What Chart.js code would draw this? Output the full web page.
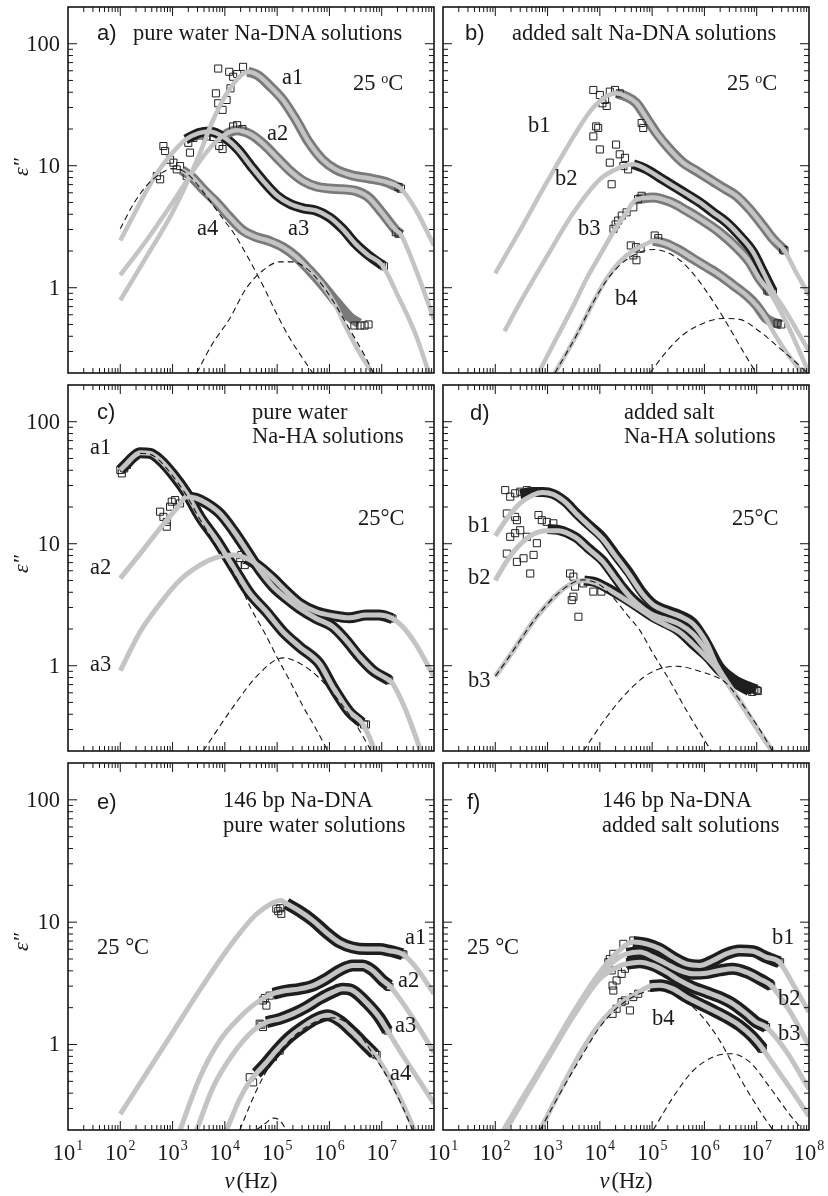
<!DOCTYPE html>
<html>
<head>
<meta charset="utf-8">
<title>Dielectric loss spectra</title>
<script src="https://cdn.jsdelivr.net/npm/chart.js@4.4.1/dist/chart.umd.min.js"></script>
<style>
  body { margin: 0; background: #fff; }
  #fig { position: relative; width: 828px; height: 1196px; overflow: hidden; }
  #fig canvas { position: absolute; }
  .t { position: absolute; font: 22.5px/22px "Liberation Serif", "Times New Roman", serif; color: #1a1a1a; white-space: nowrap; }
  .s { font-family: "Liberation Sans", Arial, sans-serif; font-size: 22px; }
  .t sup { font-size: 14px; vertical-align: 7px; line-height: 0; }
</style>
</head>
<body>
<div id="fig">
  <canvas id="cA" width="440" height="379" style="left:0;top:0"></canvas>
  <canvas id="cB" width="408" height="379" style="left:420px;top:0"></canvas>
  <canvas id="cC" width="440" height="378" style="left:0;top:379px"></canvas>
  <canvas id="cD" width="408" height="378" style="left:420px;top:379px"></canvas>
  <canvas id="cE" width="440" height="439" style="left:0;top:757px"></canvas>
  <canvas id="cF" width="408" height="439" style="left:420px;top:757px"></canvas>

  <!-- panel a -->
  <div class="t s" style="left:97px;top:22px">a)</div>
  <div class="t" style="left:133px;top:22px">pure water Na-DNA solutions</div>
  <div class="t" style="left:353px;top:72px">25 <sup>o</sup>C</div>
  <div class="t" style="left:282px;top:66px">a1</div>
  <div class="t" style="left:267px;top:122px">a2</div>
  <div class="t" style="left:288px;top:217px">a3</div>
  <div class="t" style="left:197px;top:217px">a4</div>
  <!-- panel b -->
  <div class="t s" style="left:465px;top:22px">b)</div>
  <div class="t" style="left:512px;top:22px">added salt Na-DNA solutions</div>
  <div class="t" style="left:727px;top:72px">25 <sup>o</sup>C</div>
  <div class="t" style="left:528px;top:114px">b1</div>
  <div class="t" style="left:555px;top:167px">b2</div>
  <div class="t" style="left:578px;top:217px">b3</div>
  <div class="t" style="left:615px;top:287px">b4</div>
  <!-- panel c -->
  <div class="t s" style="left:97px;top:401px">c)</div>
  <div class="t" style="left:252px;top:401px">pure water</div>
  <div class="t" style="left:252px;top:425px">Na-HA solutions</div>
  <div class="t" style="left:358px;top:507px">25°C</div>
  <div class="t" style="left:90px;top:436px">a1</div>
  <div class="t" style="left:90px;top:556px">a2</div>
  <div class="t" style="left:90px;top:653px">a3</div>
  <!-- panel d -->
  <div class="t s" style="left:470px;top:402px">d)</div>
  <div class="t" style="left:624px;top:401px">added salt</div>
  <div class="t" style="left:624px;top:425px">Na-HA solutions</div>
  <div class="t" style="left:732px;top:507px">25°C</div>
  <div class="t" style="left:468px;top:514px">b1</div>
  <div class="t" style="left:468px;top:566px">b2</div>
  <div class="t" style="left:468px;top:669px">b3</div>
  <!-- panel e -->
  <div class="t s" style="left:97px;top:791px">e)</div>
  <div class="t" style="left:223px;top:789px">146 bp Na-DNA</div>
  <div class="t" style="left:223px;top:814px">pure water solutions</div>
  <div class="t" style="left:97px;top:936px">25 °C</div>
  <div class="t" style="left:405px;top:926px">a1</div>
  <div class="t" style="left:398px;top:969px">a2</div>
  <div class="t" style="left:395px;top:1014px">a3</div>
  <div class="t" style="left:390px;top:1062px">a4</div>
  <!-- panel f -->
  <div class="t s" style="left:467px;top:791px">f)</div>
  <div class="t" style="left:602px;top:789px">146 bp Na-DNA</div>
  <div class="t" style="left:602px;top:814px">added salt solutions</div>
  <div class="t" style="left:467px;top:936px">25 °C</div>
  <div class="t" style="left:772px;top:926px">b1</div>
  <div class="t" style="left:778px;top:987px">b2</div>
  <div class="t" style="left:778px;top:1022px">b3</div>
  <div class="t" style="left:652px;top:1007px">b4</div>
</div>

<script>
// axis ranges and tick labels
const nuMin = 10, nuMax = 1e8;
const epsMin = 0.2, epsMax = 200;
const yTickLabels = [1, 10, 100];
const xExpLeft = [1, 2, 3, 4, 5, 6, 7];
const xExpRight = [1, 2, 3, 4, 5, 6, 7, 8];

// values are [frequency in Hz, eps'']

// a) pure water Na-DNA
const pA_a1FitLo = [[100,0.79],[316,1.79],[1000,4.15],[3160,12.0],[5620,22.4],[10000,36.8],[17800,51.9]];
const pA_a1Data = [[27500,58.9],[42700,55.2],[75000,44.4],[129000,34.6],[229000,23.8],[410000,15.4],[740000,11.2],[1.32e6,9.33],[2.7e6,8.34],[5.6e6,7.89],[1.2e7,7.36],[2.33e7,6.5]];
const pA_a1FitHi = [[4.4e7,4.42],[1e8,2.22]];
const pA_a1Sq = [[6740,39.2],[7460,62.6],[7460,32.5],[9040,28.7],[10800,34.6],[12100,58.9],[12800,43.1],[14400,53.6],[17200,56.4],[22300,64.6],[2.1e7,6.7],[2.33e7,6.5]];

const pA_a2FitLo = [[100,1.27],[316,2.44],[1000,5.0],[3160,10.6],[5620,14.5]];
const pA_a2Data = [[10000,18.0],[16600,19.5],[31600,18.0],[56200,14.9],[1e5,11.6],[178000,9.06],[316000,7.5],[562000,6.75],[1e6,6.5],[1.78e6,6.42],[3.16e6,6.22],[5.62e6,5.5],[1e7,4.15],[1.78e7,3.03],[2.33e7,2.72]];
const pA_a2FitHi = [[4.4e7,1.44],[1e8,0.55]];
const pA_a2Sq = [[7800,14.5],[9040,13.7],[14400,21],[17200,21.5],[21700,20],[1.86e7,2.85],[2.1e7,2.77]];

const pA_a3FitLo = [[100,2.44],[178,3.9],[316,6.22],[562,9.33],[1000,12.8]];
const pA_a3Data = [[1780,16.4],[3160,18.5],[5130,19.1],[10000,16.9],[17800,13.6],[31600,9.93],[56200,7.36],[1e5,5.67],[178000,4.85],[316000,4.47],[562000,4.28],[1e6,3.78],[1.78e6,3.04],[3.16e6,2.29],[5.62e6,1.84],[1.02e7,1.53]];
const pA_a3FitHi = [[2.15e7,0.82],[4.5e7,0.41],[8e7,0.2]];
const pA_a3Sq = [[2000,15.4],[2500,16.9],[3340,17.7],[4480,17.4],[6000,17.2],[1.0e7,1.55],[1.1e7,1.5]];

const pA_a4Data = [[1500,9.2],[2320,8.1],[3860,6.4],[6930,5.0],[12400,3.78],[22300,2.94],[40100,2.6],[71900,2.41],[129000,2.15],[232000,1.79],[416000,1.39],[746000,1.05],[1.34e6,0.77],[2.4e6,0.58],[3.7e6,0.51]];
const pA_a4FitHi = [[1.3e6,0.72],[2.2e6,0.45],[4e6,0.28],[6.7e6,0.2]];
const pA_a4Sq = [[500,8.24],[578,7.74],[668,14.5],[720,13.2],[896,11.2],[1040,10.6],[1200,9.33],[1390,9.93],[1860,8.24],[2150,12.8],[3.0e6,0.49],[3.9e6,0.49],[4.7e6,0.49],[5.6e6,0.5]];

const pA_dash1 = [[100,3.04],[178,4.85],[316,6.84],[562,8.5],[1000,9.46],[1780,8.8],[3160,6.8],[5620,4.9],[10000,3.5],[14400,2.85],[31600,1.6],[56200,1.0],[1e5,0.6],[178000,0.38],[316000,0.26],[480000,0.2]];
const pA_dash2 = [[2900,0.2],[5620,0.34],[12400,0.56],[25700,0.99],[53700,1.39],[112000,1.63],[200000,1.63],[363000,1.44],[646000,1.12],[1.15e6,0.79],[2.34e6,0.47],[4.9e6,0.27],[6.9e6,0.2]];

// b) added salt Na-DNA
const pB_b1FitLo = [[100,1.31],[316,3.1],[1000,7.5],[3160,17.4],[6460,27.8],[11600,35.7]];
const pB_b1Data = [[20900,39.2],[32400,36.8],[50400,32.5],[78200,24.5],[121000,18.5],[218000,13.6],[391000,10.6],[703000,9.06],[1.26e6,7.74],[2.25e6,6.62],[4.06e6,5.67],[7.25e6,4.42],[1.31e7,3.23],[2.04e7,2.52],[3.39e7,2.02]];
const pB_b1FitHi = [[5.6e7,1.35],[1e8,0.87]];
const pB_b1Sq = [[7500,41.8],[10000,38],[11200,32.5],[12600,34.6],[13500,30.9],[15500,40.5],[19500,41.8],[24000,39.2],[63000,22.4],[67600,20.4],[3.2e7,2.05],[3.39e7,2.02]];

const pB_b2FitLo = [[150,0.44],[316,0.79],[1000,1.84],[3160,4.15],[10000,7.74],[24000,9.64]];
const pB_b2Data = [[43700,10.3],[78200,9.33],[141000,7.98],[251000,6.84],[457000,5.85],[813000,5.0],[1.45e6,4.15],[2.63e6,3.44],[4.68e6,2.68],[8.51e6,1.96],[1.32e7,1.35],[2.04e7,0.93]];
const pB_b2FitHi = [[3.6e7,0.64],[6.6e7,0.41],[1e8,0.3]];
const pB_b2Sq = [[7500,17.4],[8500,21],[9300,20.4],[10000,13.6],[15500,10.6],[16800,7.05],[20400,14.9],[24000,12.4],[28200,9.93],[30200,11.6],[34700,9.33],[1.9e7,0.95],[2.04e7,0.93]];

const pB_b3FitLo = [[670,0.2],[1500,0.39],[3160,0.72],[5600,1.19],[10000,1.84],[18000,2.85],[32400,4.15]];
const pB_b3Data = [[50100,5.3],[105000,5.5],[218000,5.07],[457000,4.28],[933000,3.55],[1.95e6,2.85],[4.07e6,2.15],[7.25e6,1.63],[1.12e7,1.19],[1.74e7,0.93]];
const pB_b3FitHi = [[3.6e7,0.53],[6.6e7,0.3],[1e8,0.2]];
const pB_b3Sq = [[18200,3.04],[20000,3.3],[22400,3.55],[26300,3.9],[32400,4.15],[43700,4.56],[53700,5.32],[63000,5.67],[1.6e7,0.95],[1.74e7,0.93]];

const pB_b4FitLo = [[1380,0.2],[3600,0.41],[7600,0.77],[13500,1.19],[24000,1.63],[43700,2.02],[78200,2.29]];
const pB_b4Data = [[105000,2.43],[188000,2.29],[339000,2.02],[603000,1.73],[1.1e6,1.48],[1.95e6,1.27],[3.55e6,1.05],[6.3e6,0.87],[9.8e6,0.72],[1.51e7,0.56],[2.36e7,0.51],[2.95e7,0.5]];
const pB_b4FitHi = [[2.04e7,0.44],[3.6e7,0.3],[7.4e7,0.2]];
const pB_b4Sq = [[39000,2.22],[43700,1.84],[49000,2.15],[50100,1.68],[60300,2.09],[112000,2.68],[131000,2.55],[2.5e7,0.51],[2.95e7,0.5]];

const pB_dash1 = [[1380,0.2],[3600,0.41],[7600,0.77],[13500,1.15],[24000,1.53],[50100,1.9],[105000,2.06],[188000,1.96],[339000,1.68],[603000,1.31],[1.1e6,0.93],[1.95e6,0.64],[3.0e6,0.47],[5.5e6,0.3],[9.8e6,0.2]];
const pB_dash2 = [[91000,0.2],[188000,0.3],[386000,0.41],[933000,0.51],[2.25e6,0.56],[4.7e6,0.55],[1.12e7,0.44],[2.73e7,0.32],[6.6e7,0.23],[9.3e7,0.2]];

// c) pure water Na-HA
const pC_a1Data = [[100,40.2],[124,44],[179,51.7],[240,55.7],[373,55],[578,48.5],[1040,36.6],[1860,25.9],[3340,16.6],[6930,10.7],[14400,6.47],[29900,3.92],[62200,2.77],[129000,1.9],[268000,1.43],[646000,1.04],[1.16e6,0.67],[2.4e6,0.42],[4.2e6,0.34]];
const pC_a1FitHi = [[5.8e6,0.26],[7.4e6,0.2]];
const pC_a1Sq = [[100,40.2],[107,37.7],[119,41.4],[134,44.2],[4.6e6,0.33],[5e6,0.33]];

const pC_a2FitLo = [[100,5.2],[240,8.3],[578,13.4],[1200,19.5]];
const pC_a2Data = [[1860,24.3],[2880,23.5],[4480,21.4],[8040,17.7],[14400,12.9],[25900,8.87],[46400,6.08],[83400,4.45],[150000,3.57],[268000,2.95],[557000,2.44],[1.16e6,2.09],[2.07e6,1.62],[3.72e6,1.19],[6.7e6,0.92],[1.39e7,0.76]];
const pC_a2FitHi = [[1.6e7,0.72],[2.9e7,0.43],[5.6e7,0.2]];
const pC_a2Sq = [[578,18.3],[668,16.6],[774,15.1],[774,13.8],[896,20.1],[964,22.1],[1120,22.8],[1390,21.4],[1.3e7,0.77],[1.39e7,0.76]];

const pC_a3FitLo = [[100,0.91],[240,1.9],[578,3.24],[1390,5.04],[3340,6.68],[6930,7.73],[14400,8.07]];
const pC_a3Data = [[25900,7.59],[46400,6.47],[83400,5.2],[150000,4.05],[268000,3.25],[557000,2.77],[1.16e6,2.57],[2.4e6,2.47],[5e6,2.6],[8.95e6,2.6],[1.6e7,2.44]];
const pC_a3FitHi = [[2.5e7,2.1],[4.5e7,1.5],[1e8,0.81]];
const pC_a3Sq = [[14400,7.35],[17900,6.68],[20700,8.07],[24000,6.68],[25900,7.35],[1.5e7,2.46],[1.6e7,2.44]];

const pC_dash1 = [[240,55],[373,54],[578,47.5],[1000,36],[1780,25.5],[3160,16.5],[5620,11],[10000,7.4],[17800,5.0],[31600,2.94],[56200,1.9],[1e5,1.17],[178000,0.74],[316000,0.46],[562000,0.3],[930000,0.2]];
const pC_dash2 = [[3860,0.2],[14400,0.46],[46400,0.87],[129000,1.16],[268000,1.05],[646000,0.79],[1.55e6,0.51],[3.2e6,0.33],[6.3e6,0.2]];

// d) added salt Na-HA
const pD_b1Fit = [[100,11.6],[166,16.0],[300,21.5],[540,25.2],[800,26.3],[1300,25.3],[2200,21.8],[3470,17.8],[6000,14.2],[11200,11.0],[20000,7.9],[36300,5.6],[66000,3.85],[105000,3.15],[188000,2.8],[337000,2.55],[606000,2.2],[1.09e6,1.55],[1.7e6,1.02],[5e6,0.5],[1e7,0.31],[2e7,0.2]];
const pD_b1Data = [[300,25.5],[500,26.5],[800,26.5],[1300,25.5],[2200,22],[3470,18],[6000,14.4],[11200,11.3],[20000,8.1],[36300,5.8],[66000,3.95],[105000,3.2],[188000,2.85],[337000,2.6],[606000,2.25],[1.09e6,1.55],[1.95e6,0.98],[4.07e6,0.75],[9.8e6,0.64]];
const pD_b1Sq = [[155,27.5],[166,17.7],[193,24.3],[240,25.9],[240,16.6],[259,15.6],[300,26.7],[402,27.5],[580,26.7]];

const pD_b2Fit = [[100,5.0],[166,7.2],[300,9.9],[540,12.0],[930,12.8],[1600,12.8],[3470,11.2],[6000,9.1],[11200,7.2],[18000,5.5],[27000,4.35],[42000,3.5],[70000,2.9],[105000,2.6],[188000,2.4],[337000,2.18],[606000,1.82],[1.09e6,1.33],[1.7e6,0.99],[5e6,0.49],[1e7,0.31],[2e7,0.2]];
const pD_b2Data = [[1000,13.2],[1600,13.0],[3470,11.3],[6000,9.2],[11200,7.3],[18000,5.6],[27000,4.4],[42000,3.55],[70000,2.95],[105000,2.62],[188000,2.42],[337000,2.2],[606000,1.85],[1.09e6,1.35],[1.95e6,0.95],[4.07e6,0.73],[8.5e6,0.63]];
const pD_b2Sq = [[166,8.3],[193,11.4],[240,12.2],[259,7.1],[300,12.9],[347,7.6],[402,11.4],[466,5.7],[540,8.1],[624,10.1],[670,17.2],[776,15.6],[966,15.1],[1290,14.7]];

const pD_b3Fit = [[100,0.82],[166,1.11],[300,1.62],[620,2.52],[1290,3.6],[2500,4.55],[4700,5.0],[8000,4.8],[13000,4.35],[27000,3.6],[66000,2.8],[105000,2.45],[188000,2.15],[337000,1.88],[606000,1.5],[1.09e6,1.17],[1.7e6,0.95],[5e6,0.49],[1e7,0.31],[2e7,0.2]];
const pD_b3Data = [[5000,5.0],[8000,4.85],[13000,4.4],[27000,3.65],[66000,2.85],[105000,2.5],[188000,2.2],[337000,1.9],[606000,1.5],[1.09e6,1.2],[1.95e6,0.91],[4.07e6,0.71],[7.2e6,0.62]];
const pD_b3Sq = [[2690,5.7],[2900,3.45],[3120,5.37],[3120,3.68],[3360,4.45],[3890,2.52],[4840,4.73],[7500,4.05],[10700,4.05],[8.2e6,0.61],[9e6,0.64],[1e7,0.63],[1.05e7,0.62]];

const pD_dash1 = [[100,0.82],[166,1.11],[300,1.62],[620,2.52],[1290,3.6],[2500,4.55],[4700,5.05],[10000,4.6],[18100,3.6],[32400,2.65],[58200,1.95],[1e5,1.3],[200000,0.8],[500000,0.4],[1.35e6,0.2]];
const pD_dash2 = [[4840,0.2],[13500,0.38],[43500,0.68],[105000,0.9],[292000,0.99],[813000,0.9],[2.6e6,0.72],[6e6,0.45],[1.2e7,0.29],[2e7,0.2]];

// e) 146 bp Na-DNA, pure water
const pE_a1FitLo = [[100,0.27],[316,0.58],[1000,1.25],[3160,2.7],[10000,5.6],[20000,8.3],[40000,11.6],[80000,14.3],[115000,15.0]];
const pE_a1Data = [[150000,14.2],[268000,12.3],[482000,10.3],[865000,8.26],[1.55e6,6.84],[2.78e6,6.21],[5e6,6.02],[8.95e6,6.02],[1.39e7,5.84],[2.5e7,5.47]];
const pE_a1FitHi = [[4.47e7,4.29],[1e8,2.6]];
const pE_a1Sq = [[96400,12.9],[105000,12.3],[115000,13.0],[120000,11.7],[2.4e7,5.5],[2.6e7,5.45]];

const pE_a2FitLo = [[1390,0.2],[3340,0.54],[8040,1.08],[19300,1.67],[46400,2.29]];
const pE_a2Data = [[83400,2.6],[150000,2.76],[268000,2.85],[482000,3.03],[865000,3.44],[1.55e6,4.03],[2.78e6,4.43],[4.3e6,4.43],[6.7e6,4.03],[1.04e7,3.34],[1.39e7,3.03]];
const pE_a2FitHi = [[2.5e7,2.2],[5e7,1.4],[1e8,0.86]];
const pE_a2Sq = [[53700,2.29],[58000,2.4],[62200,2.08],[71900,2.51],[1.3e7,3.0],[1.4e7,2.95]];

const pE_a3FitLo = [[2880,0.2],[6000,0.45],[14400,0.84],[34700,1.3]];
const pE_a3Data = [[62200,1.52],[112000,1.62],[200000,1.78],[360000,2.02],[646000,2.36],[1.16e6,2.68],[1.79e6,2.85],[2.78e6,2.76],[5e6,2.22],[8.95e6,1.67],[1.29e7,1.3]];
const pE_a3FitHi = [[2.5e7,0.82],[5e7,0.52],[1e8,0.33]];
const pE_a3Sq = [[46400,1.48],[50000,1.45],[53700,1.39],[1.2e7,1.33],[1.29e7,1.3]];

const pE_a4FitLo = [[10800,0.2],[19300,0.36],[30000,0.5]];
const pE_a4Data = [[40000,0.58],[60000,0.7],[96400,0.89],[173000,1.15],[310000,1.39],[557000,1.62],[929000,1.73],[1.55e6,1.57],[2.78e6,1.26],[5e6,0.98],[7.2e6,0.84]];
const pE_a4FitHi = [[1.39e7,0.54],[2.5e7,0.33],[4.2e7,0.2]];
const pE_a4Sq = [[29900,0.54],[34700,0.49],[43100,0.61],[62200,0.7],[83400,0.79],[112000,0.89],[7.5e6,0.84],[8e6,0.82]];

const pE_dash1 = [[19300,0.2],[40100,0.42],[83400,0.74],[173000,1.08],[360000,1.39],[746000,1.62],[1.16e6,1.65],[2.07e6,1.52],[3.72e6,1.22],[6.7e6,0.84],[1.39e7,0.51],[2.5e7,0.31],[3.9e7,0.2]];
const pE_dash2 = [[40100,0.2],[62200,0.23],[83400,0.25],[112000,0.24],[150000,0.2]];

// f) 146 bp Na-DNA, added salt
const pF_b1FitLo = [[144,0.2],[300,0.34],[1000,0.8],[3160,1.85],[10000,3.9],[20900,5.6]];
const pF_b1Data = [[43500,6.87],[78000,6.65],[140000,6.05],[251000,5.18],[452000,4.56],[813000,4.43],[1.46e6,4.86],[2.62e6,5.51],[4.7e6,5.87],[8.45e6,5.79],[1.51e7,5.18],[2.72e7,4.71]];
const pF_b1FitHi = [[4.9e7,3.13],[1e8,1.84]];
const pF_b1Sq = [[15500,5.0],[18100,5.51],[28100,6.65],[43500,7.08],[2.6e7,4.75],[2.8e7,4.7]];

const pF_b2FitLo = [[150,0.2],[316,0.34],[1000,0.79],[3160,1.8],[10000,3.7],[24200,5.2]];
const pF_b2Data = [[32400,5.51],[58200,5.69],[105000,5.18],[188000,4.56],[337000,4.03],[606000,3.78],[1.09e6,3.83],[1.95e6,4.03],[3.5e6,4.16],[6.3e6,3.9],[1.13e7,3.44],[1.89e7,3.03]];
const pF_b2FitHi = [[4.2e7,1.9],[1e8,0.98]];

const pF_b3FitLo = [[160,0.2],[316,0.33],[1000,0.76],[3160,1.72],[10000,3.45],[24200,4.4]];
const pF_b3Data = [[32400,4.56],[58200,4.71],[105000,4.43],[188000,3.9],[337000,3.34],[606000,2.94],[1.09e6,2.68],[1.95e6,2.44],[3.5e6,2.15],[6.3e6,1.78],[9.8e6,1.52],[1.51e7,1.39]];
const pF_b3FitHi = [[3.6e7,0.89],[1e8,0.43]];
const pF_b23Sq = [[14500,4.71],[16800,4.03],[17500,3.03],[18100,2.76],[20900,3.34],[26100,3.78],[30200,4.16],[37600,4.56],[1.4e7,1.4],[1.51e7,1.39],[1.8e7,3.05],[1.89e7,3.03]];

const pF_b4FitLo = [[720,0.2],[1740,0.42],[4170,0.84],[10000,1.48],[24200,2.15],[50300,2.6]];
const pF_b4Data = [[90400,3.0],[140000,3.05],[251000,2.85],[452000,2.44],[813000,2.15],[1.46e6,1.9],[2.62e6,1.67],[4.7e6,1.43],[8.45e6,1.15],[1.31e7,0.92]];
const pF_b4FitHi = [[2.04e7,0.7],[4.2e7,0.45],[1e8,0.26]];
const pF_b4Sq = [[17500,1.78],[20900,1.96],[26100,2.22],[30200,2.29],[37600,1.9],[43500,2.44],[54200,2.6],[1.25e7,0.93],[1.31e7,0.92]];

const pF_dash1 = [[720,0.2],[1740,0.4],[4170,0.76],[10000,1.39],[24200,2.08],[58200,2.6],[140000,2.8],[337000,2.44],[813000,1.78],[1.95e6,1.08],[4.7e6,0.54],[1.13e7,0.29],[2.04e7,0.2]];
const pF_dash2 = [[105000,0.2],[251000,0.37],[606000,0.61],[1.46e6,0.79],[3.26e6,0.84],[7.3e6,0.72],[1.76e7,0.45],[4.2e7,0.27],[7.6e7,0.2]];


// drawing styles
const INK = '#151515', GREY = '#c4c4c4', HATCH = '#7a7a7a', DARK = '#1e1e1e';
const SERIF = '"Liberation Serif", "Times New Roman", serif';

const line = (pts, color, width, order, extra) => Object.assign({
  data: pts, showLine: true, borderColor: color, borderWidth: width,
  pointRadius: 0, pointHoverRadius: 0, pointHitRadius: 0, order: order, clip: 0
}, extra || {});
const band = (pts, color, w) => line(pts, color, w, 4);
const fit = (pts, w) => line(pts, GREY, w, 2);
const dash = pts => line(pts, INK, 1.1, 1, { borderDash: [6, 4] });
const squares = pts => ({
  data: pts, showLine: false, pointStyle: 'rect', pointRadius: 5, pointHoverRadius: 5,
  borderColor: '#222', borderWidth: 1, backgroundColor: 'rgba(255,255,255,0)', order: 3, clip: 0
});

// frame, inward log ticks and tick labels, drawn from the chart's own scales
function decor(cfg) {
  return {
    id: 'decor',
    afterDraw(chart) {
      const { ctx, chartArea: a } = chart;
      const sx = chart.scales.x, sy = chart.scales.y;
      ctx.save();
      ctx.strokeStyle = INK;
      ctx.lineWidth = 1;
      ctx.beginPath();
      for (let e = 1; e < 8; e++) {
        for (let k = 1; k < 10; k++) {
          if (e === 1 && k === 1) continue;
          const px = sx.getPixelForValue(k * Math.pow(10, e));
          const len = k === 1 ? 9 : 5;
          ctx.moveTo(px, a.top); ctx.lineTo(px, a.top + len);
          ctx.moveTo(px, a.bottom); ctx.lineTo(px, a.bottom - len);
        }
      }
      for (let e = -1; e <= 2; e++) {
        for (let k = 1; k < 10; k++) {
          const v = k * Math.pow(10, e);
          if (v < epsMin * 1.01 || v > epsMax * 0.99) continue;
          const py = sy.getPixelForValue(v);
          const len = k === 1 ? 9 : 5;
          ctx.moveTo(a.left, py); ctx.lineTo(a.left + len, py);
          ctx.moveTo(a.right, py); ctx.lineTo(a.right - len, py);
        }
      }
      ctx.stroke();
      ctx.lineWidth = 1.6;
      ctx.strokeRect(a.left, a.top, a.right - a.left, a.bottom - a.top);

      ctx.fillStyle = '#1a1a1a';
      if (cfg.yLabels) {
        ctx.font = '22.5px ' + SERIF;
        ctx.textAlign = 'right';
        ctx.textBaseline = 'middle';
        yTickLabels.forEach(v => ctx.fillText(String(v), a.left - 8, sy.getPixelForValue(v) + 1));
        // axis title
        ctx.save();
        ctx.translate(22, a.top + cfg.titleAt);
        ctx.rotate(-Math.PI / 2);
        ctx.textAlign = 'center';
        ctx.font = 'italic 22px ' + SERIF;
        ctx.fillText('\u03b5\u2033', 0, 0);
        ctx.restore();
      }
      if (cfg.xExps) {
        ctx.textBaseline = 'alphabetic';
        ctx.textAlign = 'left';
        cfg.xExps.forEach(n => {
          const px = sx.getPixelForValue(Math.pow(10, n));
          ctx.font = '22.5px ' + SERIF;
          const w1 = ctx.measureText('10').width;
          ctx.font = '14px ' + SERIF;
          const w2 = ctx.measureText(String(n)).width;
          const x0 = px - (w1 + w2 + 1) / 2;
          ctx.font = '22.5px ' + SERIF;
          ctx.fillText('10', x0, a.bottom + 30);
          ctx.font = '14px ' + SERIF;
          ctx.fillText(String(n), x0 + w1 + 1, a.bottom + 20);
        });
        const mid = (a.left + a.right) / 2;
        ctx.font = 'italic 22.5px ' + SERIF;
        const wn = ctx.measureText('\u03bd').width;
        ctx.font = '22.5px ' + SERIF;
        const wh = ctx.measureText('(Hz)').width;
        const s = mid - (wn + wh + 2) / 2;
        ctx.font = 'italic 22.5px ' + SERIF;
        ctx.fillText('\u03bd', s, a.bottom + 58);
        ctx.font = '22.5px ' + SERIF;
        ctx.fillText('(Hz)', s + wn + 2, a.bottom + 58);
      }
      ctx.restore();
    }
  };
}

function panel(id, pad, datasets, cfg) {
  new Chart(document.getElementById(id), {
    type: 'scatter',
    data: { datasets: datasets },
    options: {
      responsive: false,
      animation: false,
      devicePixelRatio: 1,
      events: [],
      layout: { padding: pad },
      elements: { line: { cubicInterpolationMode: 'monotone', borderCapStyle: 'butt', borderJoinStyle: 'round' } },
      plugins: { legend: { display: false }, tooltip: { enabled: false } },
      scales: {
        x: { type: 'logarithmic', min: nuMin, max: nuMax, display: false },
        y: { type: 'logarithmic', min: epsMin, max: epsMax, display: false }
      }
    },
    plugins: [decor(cfg)]
  });
}

const padL = (t, b) => ({ left: 68, right: 4, top: t, bottom: b });
const padR = (t, b) => ({ left: 23, right: 19, top: t, bottom: b });

// a)
panel('cA', padL(7, 5), [
  dash(pA_dash1), dash(pA_dash2),
  fit([...pA_a1FitLo, ...pA_a1Data, ...pA_a1FitHi], 4.5),
  fit([...pA_a2FitLo, ...pA_a2Data, ...pA_a2FitHi], 4.5),
  fit([...pA_a3FitLo, ...pA_a3Data, ...pA_a3FitHi], 4.5),
  fit([...pA_a4Data.slice(0, 12), ...pA_a4FitHi], 4.5),
  squares(pA_a1Sq), squares(pA_a2Sq), squares(pA_a3Sq), squares(pA_a4Sq),
  band(pA_a1Data, HATCH, 10), band(pA_a2Data, HATCH, 10), band(pA_a3Data, DARK, 10), band(pA_a4Data, HATCH, 10)
], { yLabels: true, titleAt: 160 });

// b)
panel('cB', padR(7, 5), [
  dash(pB_dash1), dash(pB_dash2),
  fit([...pB_b1FitLo, ...pB_b1Data, ...pB_b1FitHi], 4.5),
  fit([...pB_b2FitLo, ...pB_b2Data, ...pB_b2FitHi], 4.5),
  fit([...pB_b3FitLo, ...pB_b3Data, ...pB_b3FitHi], 4.5),
  fit([...pB_b4FitLo, ...pB_b4Data.slice(0, 10), ...pB_b4FitHi], 4.5),
  squares(pB_b1Sq), squares(pB_b2Sq), squares(pB_b3Sq), squares(pB_b4Sq),
  band(pB_b1Data, HATCH, 10), band(pB_b2Data, DARK, 10), band(pB_b3Data, HATCH, 10), band(pB_b4Data, HATCH, 10)
], {});

// c)
panel('cC', padL(5, 6), [
  dash(pC_dash1), dash(pC_dash2),
  fit([...pC_a1Data, ...pC_a1FitHi], 5),
  fit([...pC_a2FitLo, ...pC_a2Data, ...pC_a2FitHi], 5),
  fit([...pC_a3FitLo, ...pC_a3Data, ...pC_a3FitHi], 5),
  squares(pC_a1Sq), squares(pC_a2Sq), squares(pC_a3Sq),
  band(pC_a1Data, DARK, 11), band(pC_a2Data, DARK, 11), band(pC_a3Data, DARK, 11)
], { yLabels: true, titleAt: 179 });

// d)
panel('cD', padR(5, 6), [
  dash(pD_dash1), dash(pD_dash2),
  fit(pD_b1Fit, 5), fit(pD_b2Fit, 5), fit(pD_b3Fit, 5),
  squares(pD_b1Sq), squares(pD_b2Sq), squares(pD_b3Sq),
  band(pD_b1Data, DARK, 10), band(pD_b2Data, DARK, 10), band(pD_b3Data, DARK, 10)
], {});

// e)
panel('cE', padL(6, 66), [
  dash(pE_dash1), dash(pE_dash2),
  fit([...pE_a1FitLo, ...pE_a1Data, ...pE_a1FitHi], 5),
  fit([...pE_a2FitLo, ...pE_a2Data, ...pE_a2FitHi], 5),
  fit([...pE_a3FitLo, ...pE_a3Data, ...pE_a3FitHi], 5),
  fit([...pE_a4FitLo, ...pE_a4Data, ...pE_a4FitHi], 5),
  squares(pE_a1Sq), squares(pE_a2Sq), squares(pE_a3Sq), squares(pE_a4Sq),
  band(pE_a1Data, DARK, 12), band(pE_a2Data, DARK, 12), band(pE_a3Data, DARK, 12), band(pE_a4Data, DARK, 12)
], { yLabels: true, titleAt: 179, xExps: xExpLeft });

// f)
panel('cF', padR(6, 66), [
  dash(pF_dash1), dash(pF_dash2),
  fit([...pF_b1FitLo, ...pF_b1Data, ...pF_b1FitHi], 5),
  fit([...pF_b2FitLo, ...pF_b2Data, ...pF_b2FitHi], 5),
  fit([...pF_b3FitLo, ...pF_b3Data, ...pF_b3FitHi], 5),
  fit([...pF_b4FitLo, ...pF_b4Data, ...pF_b4FitHi], 5),
  squares(pF_b1Sq), squares(pF_b23Sq), squares(pF_b4Sq),
  band(pF_b1Data, DARK, 12), band(pF_b2Data, DARK, 12), band(pF_b3Data, DARK, 12), band(pF_b4Data, DARK, 12)
], { xExps: xExpRight });
</script>
</body>
</html>
